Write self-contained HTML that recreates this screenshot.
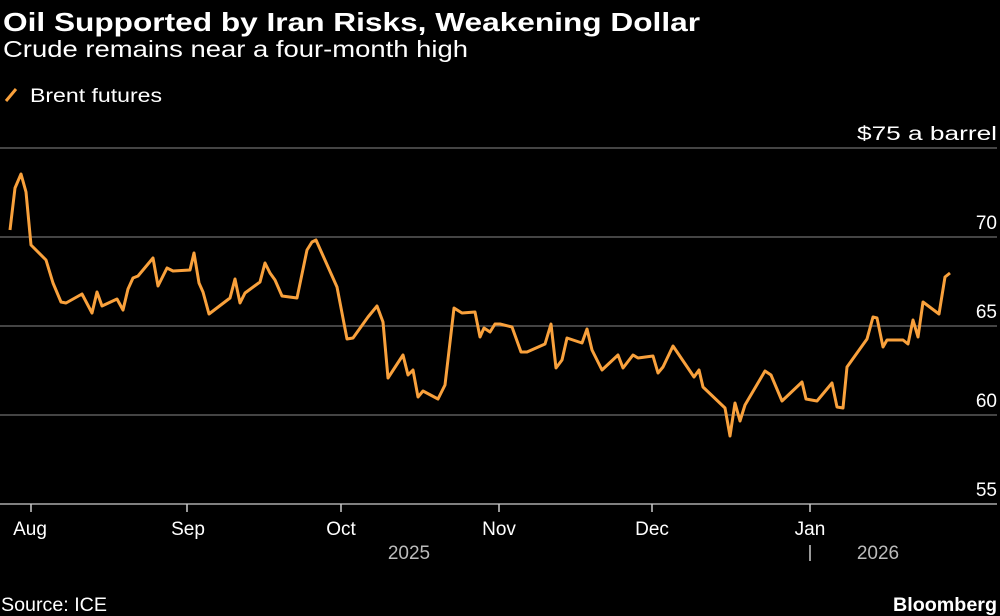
<!DOCTYPE html>
<html><head><meta charset="utf-8"><style>
body{margin:0;background:#000;width:1000px;height:616px;overflow:hidden;font-family:"Liberation Sans",sans-serif;color:#fff}
</style></head><body>
<svg width="1000" height="616" xmlns="http://www.w3.org/2000/svg" style="position:absolute;left:0;top:0">
<rect width="1000" height="616" fill="#000"/>
<text x="3" y="31" font-size="26" font-weight="bold" fill="#fff" font-family="Liberation Sans" textLength="697" lengthAdjust="spacingAndGlyphs">Oil Supported by Iran Risks, Weakening Dollar</text>
<text x="3" y="57" font-size="23" fill="#fff" font-family="Liberation Sans" textLength="465" lengthAdjust="spacingAndGlyphs">Crude remains near a four-month high</text>
<line x1="6" y1="101" x2="16" y2="89" stroke="#f9a13c" stroke-width="3"/>
<text x="30" y="102" font-size="19" fill="#fff" font-family="Liberation Sans" textLength="132" lengthAdjust="spacingAndGlyphs">Brent futures</text>
<g stroke="#5a5a5a" stroke-width="1.5">
<line x1="0" y1="148" x2="997" y2="148"/>
<line x1="0" y1="237" x2="997" y2="237"/>
<line x1="0" y1="326" x2="997" y2="326"/>
<line x1="0" y1="415" x2="997" y2="415"/>
</g>
<line x1="0" y1="504" x2="997" y2="504" stroke="#aaa" stroke-width="1.5"/>
<g font-size="19" fill="#fff" text-anchor="end" font-family="Liberation Sans">
<text x="997" y="140" textLength="140" lengthAdjust="spacingAndGlyphs">$75 a barrel</text>
<text x="997" y="229">70</text>
<text x="997" y="318">65</text>
<text x="997" y="407">60</text>
<text x="997" y="496">55</text>
</g>
<g stroke="#ccc" stroke-width="1.5">
<line x1="31" y1="504" x2="31" y2="512"/><line x1="187" y1="504" x2="187" y2="512"/>
<line x1="341" y1="504" x2="341" y2="512"/><line x1="499" y1="504" x2="499" y2="512"/>
<line x1="652" y1="504" x2="652" y2="512"/><line x1="810" y1="504" x2="810" y2="512"/>
<line x1="810" y1="545" x2="810" y2="561"/>
</g>
<g font-size="19" fill="#fff" text-anchor="middle" font-family="Liberation Sans">
<text x="30" y="535">Aug</text><text x="188" y="535">Sep</text><text x="341" y="535">Oct</text>
<text x="499" y="535">Nov</text><text x="652" y="535">Dec</text><text x="810" y="535">Jan</text>
</g>
<g font-size="19" fill="#bbb" text-anchor="middle" font-family="Liberation Sans">
<text x="409" y="559">2025</text><text x="878" y="559">2026</text>
</g>
<text x="1" y="611" font-size="19" fill="#fff" font-family="Liberation Sans" textLength="106" lengthAdjust="spacingAndGlyphs">Source: ICE</text>
<text x="997" y="611" font-size="19" font-weight="bold" fill="#fff" text-anchor="end" font-family="Liberation Sans" textLength="104" lengthAdjust="spacingAndGlyphs">Bloomberg</text>
<polyline fill="none" stroke="#f9a13c" stroke-width="3" stroke-linejoin="round" points="10,230 15,188 21,174 26,192 31,245 46,260 53,283 61,302 66,303 82,294 92,313 97,292 102,306 117,299 123,310 128,289 133,278 138,276 153,258 158,286 167,268 173,271 190,270 194,253 199,283 203,292 209,314 230,298 235,279 240,303 245,293 260,282 265,263 270,273 275,280 282,296 297,298 307,250 312,242 316,240 337,287 347,339 353,338 368,317 377,306 383,322 388,378 403,355 408,375 413,370 418,397 423,391 438,399 445,385 454,308 462,313 475,312 480,337 484,328 490,332 495,324 500,324 512,327 521,352 527,352 545,344 551,324 556,368 562,360 567,338 582,343 587,329 592,350 602,370 618,355 623,368 633,355 638,358 653,356 658,373 663,367 673,346 694,377 699,370 703,387 725,408 730,436 735,403 740,421 745,405 765,371 771,375 782,401 802,382 806,399 817,401 832,383 837,407 843,408 847,367 867,339 873,317 877,318 883,347 887,340 903,340 908,344 913,320 918,337 923,302 939,314 945,277 950,273"/>
</svg>
</body></html>
